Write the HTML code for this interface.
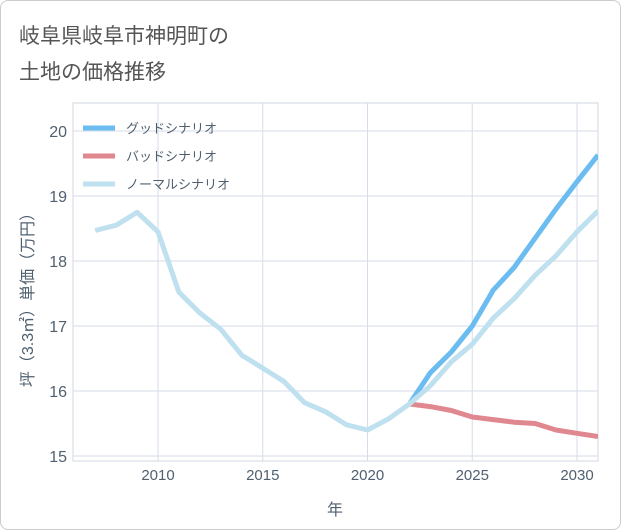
<!DOCTYPE html>
<html><head><meta charset="utf-8">
<style>
body{margin:0;background:#fff;font-family:"Liberation Sans","Noto Sans CJK JP",sans-serif;}
#wrap{position:relative;width:619px;height:528px;border:1px solid #ccc;border-radius:8px;overflow:hidden;}
svg text{font-family:"Liberation Sans","Noto Sans CJK JP",sans-serif;}
</style></head>
<body>
<div id="wrap">
<svg id="chart" width="621" height="530">
<text x="18" y="42" font-size="21" fill="#555">岐阜県岐阜市神明町の</text>
<text x="18" y="78" font-size="21" fill="#555">土地の価格推移</text>
<g id="grid"></g><g id="series"></g><g id="axes"></g><g id="legend"></g>
</svg>
</div>
<script>
const years=[2007,2008,2009,2010,2011,2012,2013,2014,2015,2016,2017,2018,2019,2020,2021,2022,2023,2024,2025,2026,2027,2028,2029,2030,2031];
const normalValues=[18.47,18.55,18.75,18.45,17.52,17.2,16.95,16.55,16.35,16.15,15.82,15.68,15.48,15.4,15.57,15.8,16.08,16.45,16.72,17.12,17.42,17.78,18.08,18.45,18.77];
const scenarioYears=[2022,2023,2024,2025,2026,2027,2028,2029,2030,2031];
const goodValues=[15.8,16.28,16.6,17.0,17.55,17.9,18.35,18.8,19.22,19.63];
const badValues=[15.8,15.76,15.7,15.6,15.56,15.52,15.5,15.4,15.35,15.3];
const xTicks=[2010,2015,2020,2025,2030];
const yTicks=[15,16,17,18,19,20];
const NS="http://www.w3.org/2000/svg";
const L=72,R=597,T=102,B=460;
const x=v=>157+(v-2010)*20.95;
const y=v=>455-(v-15)*65;
function mk(tag,attrs,parent){const e=document.createElementNS(NS,tag);for(const k in attrs)e.setAttribute(k,attrs[k]);parent.appendChild(e);return e;}
const grid=document.getElementById('grid'),axes=document.getElementById('axes'),ser=document.getElementById('series'),leg=document.getElementById('legend');
const bg=mk('rect',{x:L,y:T,width:R-L,height:B-T,fill:'#fff',stroke:'#d0d8e0'},grid);


for(const t of xTicks){
 const l=mk('line',{x1:x(t),x2:x(t),y1:T,y2:B,stroke:'#d5dee8'},grid);
 
 
 const tx=mk('text',{x:x(t),y:479,'font-size':15,fill:'#506070','text-anchor':'middle'},axes);
 tx.textContent=t;
 
 
}
for(const t of yTicks){
 const l=mk('line',{x1:L,x2:R,y1:y(t),y2:y(t),stroke:'#d5dee8'},grid);
 
 
 const tx=mk('text',{x:66,y:y(t)+6,'font-size':16,fill:'#506070','text-anchor':'end'},axes);
 tx.textContent=t;
 
 
}
const xt=mk('text',{x:334,y:514,'font-size':16,fill:'#506070','text-anchor':'middle'},axes);
xt.textContent='年';


const yt=mk('text',{x:0,y:0,'font-size':16,fill:'#506070','text-anchor':'middle',transform:'translate(32,295) rotate(-90)'},axes);
yt.textContent='坪（3.3㎡）単価（万円）';


function line(xs,vs,color,name){
 const d=xs.map((v,i)=>(i?'L':'M')+x(v).toFixed(1)+','+y(vs[i]).toFixed(1)).join(' ');
 const p=mk('path',{d:d,fill:'none',stroke:color,'stroke-width':5,'stroke-linejoin':'round'},ser);
 
 
}
const clip=mk('clipPath',{id:'c'},ser);mk('rect',{x:L,y:T,width:R-L,height:B-T},clip);
ser.setAttribute('clip-path','url(#c)');
line(scenarioYears,goodValues,'#6bbcf0','good-scenario-line');
line(scenarioYears,badValues,'#e0888f','bad-scenario-line');
line(years,normalValues,'#bfe0ef','normal-scenario-line');
const items=[['グッドシナリオ','#6bbcf0'],['バッドシナリオ','#e0888f'],['ノーマルシナリオ','#bfe0ef']];
items.forEach((it,i)=>{
 const g=mk('g',{},leg);
 
 
 const yy=127+i*28;
 mk('line',{x1:82,x2:114,y1:yy,y2:yy,stroke:it[1],'stroke-width':5},g);
 const t=mk('text',{x:125,y:yy+5,'font-size':13,fill:'#506070'},g);t.textContent=it[0];
});
</script>
</body></html>
